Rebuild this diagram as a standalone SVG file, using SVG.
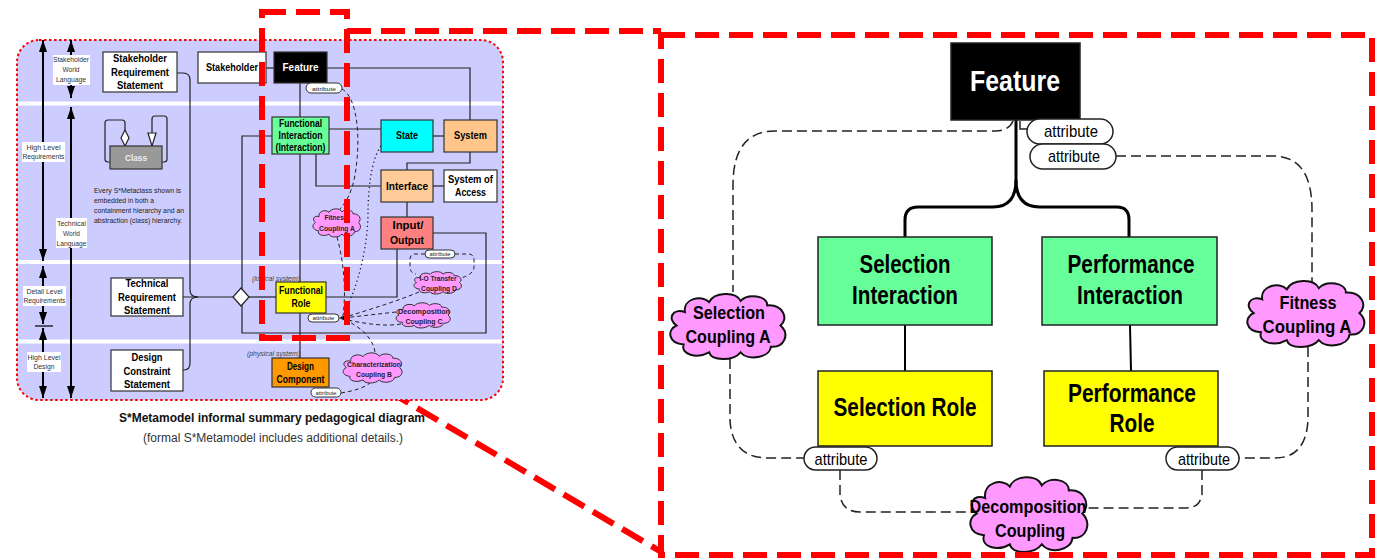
<svg xmlns="http://www.w3.org/2000/svg" width="1376" height="559" viewBox="0 0 1376 559">
<defs>
<style>
text{font-family:"Liberation Sans",Arial,sans-serif;}
.b{font-weight:bold}
.m{text-anchor:middle}
.box{stroke:#333;stroke-width:1.2}
.ln{fill:none;stroke:#222;stroke-width:1.2}
.dl{fill:none;stroke:#222;stroke-width:1;stroke-dasharray:4 3}
.dt{fill:none;stroke:#222;stroke-width:1.3;stroke-dasharray:1.3 3}
.pill{fill:#fff;stroke:#333;stroke-width:1}
.lab{font-size:8px;fill:#333}
.arr{stroke:#000;stroke-width:2}
.hl{fill:none;stroke:#ff0000;stroke-width:6;stroke-dasharray:24 10}
.rbox{stroke:#222;stroke-width:1.5}
.rl{fill:none;stroke:#000;stroke-width:2}
.rd{fill:none;stroke:#222;stroke-width:1.5;stroke-dasharray:10 5}
.cl{fill:#ff99ff;stroke:#333;stroke-width:1}
.clr{fill:#ff99ff;stroke:#111;stroke-width:2}
.ltx{font-size:10px;font-weight:bold;fill:#000}
.ctx{font-size:7px;font-weight:bold;fill:#222}
.atx{font-size:6px;fill:#222}
.rtx{font-size:26px;font-weight:bold;fill:#000}
.rct{font-size:19px;font-weight:bold;fill:#000}
.rat{font-size:17px;fill:#000}
</style>
<path id="cloud" vector-effect="non-scaling-stroke" d="M 14 18 C 12 6, 28 2, 34 9 C 38 0, 56 -1, 60 8 C 66 1, 82 3, 82 12 C 95 11, 100 24, 93 30 C 101 38, 96 50, 85 49 C 84 59, 66 62, 60 54 C 54 62, 36 62, 34 54 C 24 60, 10 56, 13 47 C 0 46, -1 34, 7 30 C -1 24, 4 14, 14 18 Z"/>
<marker id="ah" viewBox="0 0 12 8" refX="12" refY="4" markerWidth="12" markerHeight="8" markerUnits="userSpaceOnUse" orient="auto-start-reverse">
<path d="M0,0 L12,4 L0,8 z" fill="#000"/>
</marker>
</defs>

<!-- zoom connector lines (behind) -->
<g id="zoom-diagonal">
<line x1="300" y1="339" x2="663" y2="553" stroke="#ff0000" stroke-width="6" stroke-dasharray="24 10"/>
</g>

<!-- left panel background -->
<g id="left-panel">
<rect x="17" y="40" width="486" height="360" rx="22" fill="#ccccff" stroke="#ff0000" stroke-width="2" stroke-dasharray="2.5 2.5"/>
<line x1="18" y1="103.5" x2="502" y2="103.5" stroke="#fff" stroke-width="4"/>
<line x1="18" y1="262" x2="502" y2="262" stroke="#fff" stroke-width="4"/>
<line x1="18" y1="341.5" x2="502" y2="341.5" stroke="#fff" stroke-width="4"/>
</g>

<g id="level-arrows">
<line class="arr" x1="43" y1="40" x2="43" y2="261" marker-start="url(#ah)" marker-end="url(#ah)"/>
<line class="arr" x1="43" y1="266" x2="43" y2="324" marker-start="url(#ah)" marker-end="url(#ah)"/>
<line class="arr" x1="43" y1="328" x2="43" y2="398" marker-start="url(#ah)" marker-end="url(#ah)"/>
<line x1="35" y1="326" x2="53" y2="326" stroke="#000" stroke-width="1.2"/>
<line class="arr" x1="71" y1="40" x2="71" y2="98" marker-start="url(#ah)" marker-end="url(#ah)"/>
<line class="arr" x1="71" y1="107" x2="71" y2="398" marker-start="url(#ah)" marker-end="url(#ah)"/>
</g>
<g id="level-labels">
<rect x="53" y="55" width="37" height="30" fill="#fff"/>
<text class="lab m" x="71" y="62" textLength="36" lengthAdjust="spacingAndGlyphs">Stakeholder</text>
<text class="lab m" x="71" y="72" textLength="17" lengthAdjust="spacingAndGlyphs">World</text>
<text class="lab m" x="71" y="82" textLength="30" lengthAdjust="spacingAndGlyphs">Language</text>
<rect x="22" y="142" width="43" height="20" fill="#fff"/>
<text class="lab m" x="43.5" y="150" textLength="34" lengthAdjust="spacingAndGlyphs">High Level</text>
<text class="lab m" x="43.5" y="159" textLength="42" lengthAdjust="spacingAndGlyphs">Requirements</text>
<rect x="56" y="218" width="31" height="30" fill="#fff"/>
<text class="lab m" x="71.5" y="226" textLength="29" lengthAdjust="spacingAndGlyphs">Technical</text>
<text class="lab m" x="71.5" y="236" textLength="17" lengthAdjust="spacingAndGlyphs">World</text>
<text class="lab m" x="71.5" y="246" textLength="30" lengthAdjust="spacingAndGlyphs">Language</text>
<rect x="23" y="286" width="43" height="20" fill="#fff"/>
<text class="lab m" x="44.5" y="294" textLength="36" lengthAdjust="spacingAndGlyphs">Detail Level</text>
<text class="lab m" x="44.5" y="303" textLength="42" lengthAdjust="spacingAndGlyphs">Requirements</text>
<rect x="27" y="352" width="34" height="20" fill="#fff"/>
<text class="lab m" x="44" y="360" textLength="33" lengthAdjust="spacingAndGlyphs">High Level</text>
<text class="lab m" x="44" y="369" textLength="21" lengthAdjust="spacingAndGlyphs">Design</text>
</g>

<!-- left connectors -->
<g id="left-connectors">
<path class="ln" d="M266 68 H274"/>
<path class="ln" d="M327 68 H470 V120"/>
<path class="ln" d="M300 83 V117"/>
<path class="ln" d="M300 154 V282"/>
<path class="ln" d="M329 129 H381"/>
<path class="ln" d="M433 136 H444"/>
<path class="ln" d="M316 154 V186 H381"/>
<path class="ln" d="M470 152 V163 H407 V170"/>
<path class="ln" d="M433 186 H444"/>
<path class="ln" d="M407 202 V217"/>
<path class="ln" d="M433 233 H486 V333 H242 V136 H272"/>
<path class="ln" d="M397 249 V297 H326"/>
<path class="ln" d="M249 297 H276"/>
<path class="ln" d="M183 297 H234"/>
<path class="ln" d="M177 73 H183 Q190 73 190 80 V290 Q190 297 198 297"/>
<path class="ln" d="M183 370 H184 Q190 370 190 363 V304 Q190 297 198 297"/>
<path class="ln" d="M300 313 V358"/>
<!-- class self loops -->
<path class="ln" d="M125 130 V123 Q125 120 122 120 H108 Q105 120 105 123 V159 Q105 162 108 162 H110"/>
<polygon points="125,130 129,138 125,146 121,138" fill="#fff" stroke="#222" stroke-width="1.2"/>
<path class="ln" d="M152 133 V119 Q152 116 155 116 H164 Q167 116 167 119 V159 Q167 162 164 162 H162"/>
<polygon points="148,133 156,133 152,146" fill="#fff" stroke="#222" stroke-width="1.2"/>
<!-- dashed / dotted attribute links -->
<path class="dl" d="M342 89 C358 98, 361 140, 355 175 C352 192, 346 203, 339 210"/>
<path class="dl" d="M337 237 C342 255, 347 285, 343 316"/>
<path class="dt" d="M381 146 C371 160, 368 190, 368 215 C367 260, 352 300, 342 317"/>
<path class="dl" d="M419 292 C400 300, 372 309, 342 318"/>
<path class="dl" d="M396 312 L343 318"/>
<path class="dl" d="M401 324 C382 327, 362 323, 343 319"/>
<path class="dl" d="M375 352 C373 338, 360 326, 343 319"/>
<path class="dl" d="M341 393 C353 391, 364 388, 370 383"/>
<path class="dl" d="M425 254 H415 Q410 254 410 260 V267 Q410 273 416 274"/>
<path class="dl" d="M455 254 H468 Q474 254 474 260 V267 Q474 274 461 278"/>
<polygon points="339,318 347,314.5 347,321.5" fill="#111"/>
</g>

<!-- left nodes -->
<g id="srs">
<rect class="box" x="103" y="52" width="74" height="40" fill="#fff"/>
<text class="ltx m" x="140" y="62" textLength="54" lengthAdjust="spacingAndGlyphs">Stakeholder</text>
<text class="ltx m" x="140" y="76" textLength="58" lengthAdjust="spacingAndGlyphs">Requirement</text>
<text class="ltx m" x="140" y="89" textLength="46" lengthAdjust="spacingAndGlyphs">Statement</text>
</g>
<g id="stakeholder">
<rect class="box" x="198" y="52" width="68" height="31" fill="#fff"/>
<text class="ltx m" x="232" y="71" textLength="52" lengthAdjust="spacingAndGlyphs">Stakeholder</text>
</g>
<g id="feature-small">
<rect class="box" x="274" y="52" width="53" height="31" fill="#000"/>
<text class="m b" x="300.5" y="71" font-size="11" fill="#fff" textLength="36" lengthAdjust="spacingAndGlyphs">Feature</text>
<rect class="pill" x="306" y="83" width="36" height="10" rx="5"/>
<text class="atx m" x="324" y="90.5" textLength="24" lengthAdjust="spacingAndGlyphs">attribute</text>
</g>
<g id="class">
<rect class="box" x="110" y="146" width="52" height="23" fill="#999"/>
<text class="m b" x="136" y="161" font-size="9" fill="#eee" textLength="22" lengthAdjust="spacingAndGlyphs">Class</text>
<text x="94" y="193" font-size="7.5" fill="#222" textLength="87" lengthAdjust="spacingAndGlyphs">Every S*Metaclass shown is</text>
<text x="94" y="203" font-size="7.5" fill="#222" textLength="60" lengthAdjust="spacingAndGlyphs">embedded in both a</text>
<text x="94" y="213" font-size="7.5" fill="#222" textLength="90" lengthAdjust="spacingAndGlyphs">containment hierarchy and an</text>
<text x="94" y="223" font-size="7.5" fill="#222" textLength="88" lengthAdjust="spacingAndGlyphs">abstraction (class) hierarchy.</text>
</g>
<g id="functional-interaction">
<rect class="box" x="272" y="117" width="57" height="37" fill="#66ff99"/>
<text class="ltx m" x="300.5" y="127" font-size="9.5" textLength="43" lengthAdjust="spacingAndGlyphs">Functional</text>
<text class="ltx m" x="300.5" y="139" font-size="9.5" textLength="44" lengthAdjust="spacingAndGlyphs">Interaction</text>
<text class="ltx m" x="300.5" y="151" font-size="9.5" textLength="50" lengthAdjust="spacingAndGlyphs">(Interaction)</text>
</g>
<g id="state">
<rect class="box" x="381" y="120" width="52" height="32" fill="#00ffff"/>
<text class="ltx m" x="407" y="139" textLength="22" lengthAdjust="spacingAndGlyphs">State</text>
</g>
<g id="system">
<rect class="box" x="444" y="120" width="53" height="32" fill="#ffc58a"/>
<text class="ltx m" x="470.5" y="139" textLength="33" lengthAdjust="spacingAndGlyphs">System</text>
</g>
<g id="interface">
<rect class="box" x="381" y="170" width="52" height="32" fill="#ffcc99"/>
<text class="ltx m" x="407" y="190" font-size="11" textLength="42" lengthAdjust="spacingAndGlyphs">Interface</text>
</g>
<g id="system-of-access">
<rect class="box" x="444" y="170" width="53" height="32" fill="#fff"/>
<text class="ltx m" x="470.5" y="183" textLength="45" lengthAdjust="spacingAndGlyphs">System of</text>
<text class="ltx m" x="470.5" y="196" textLength="31" lengthAdjust="spacingAndGlyphs">Access</text>
</g>
<g id="input-output">
<rect class="box" x="381" y="217" width="52" height="32" fill="#ff8080"/>
<text class="ltx m" x="408" y="229" font-size="11" textLength="31" lengthAdjust="spacingAndGlyphs">Input/</text>
<text class="ltx m" x="407" y="244" font-size="11" textLength="34" lengthAdjust="spacingAndGlyphs">Output</text>
<rect class="pill" x="425" y="250" width="30" height="8" rx="4"/>
<text class="m" x="440" y="256.3" font-size="5.5" fill="#222" textLength="21" lengthAdjust="spacingAndGlyphs">attribute</text>
</g>
<g id="trs">
<rect class="box" x="111" y="278" width="72" height="38" fill="#fff"/>
<text class="ltx m" x="147" y="287" textLength="43" lengthAdjust="spacingAndGlyphs">Technical</text>
<text class="ltx m" x="147" y="301" textLength="58" lengthAdjust="spacingAndGlyphs">Requirement</text>
<text class="ltx m" x="147" y="314" textLength="46" lengthAdjust="spacingAndGlyphs">Statement</text>
</g>
<g id="dcs">
<rect class="box" x="111" y="350" width="72" height="41" fill="#fff"/>
<text class="ltx m" x="147" y="361" textLength="31" lengthAdjust="spacingAndGlyphs">Design</text>
<text class="ltx m" x="147" y="375" textLength="47" lengthAdjust="spacingAndGlyphs">Constraint</text>
<text class="ltx m" x="147" y="388" textLength="46" lengthAdjust="spacingAndGlyphs">Statement</text>
</g>
<g id="diamond">
<polygon points="241,288 249,297 241,306 233,297" fill="#fff" stroke="#222" stroke-width="1.2"/>
</g>
<g id="functional-role">
<text x="300" y="281" font-size="7" font-style="italic" fill="#444" text-anchor="end" textLength="48" lengthAdjust="spacingAndGlyphs">(logical system)</text>
<rect class="box" x="276" y="282" width="50" height="31" fill="#ffff00"/>
<text class="ltx m" x="301" y="294" textLength="44" lengthAdjust="spacingAndGlyphs">Functional</text>
<text class="ltx m" x="301" y="307" textLength="19" lengthAdjust="spacingAndGlyphs">Role</text>
<rect class="pill" x="308" y="314" width="31" height="8" rx="4"/>
<text class="m" x="323.5" y="320.3" font-size="5.5" fill="#222" textLength="22" lengthAdjust="spacingAndGlyphs">attribute</text>
</g>
<g id="design-component">
<text x="300" y="356" font-size="7" font-style="italic" fill="#444" text-anchor="end" textLength="53" lengthAdjust="spacingAndGlyphs">(physical system)</text>
<rect class="box" x="272" y="358" width="57" height="29" fill="#ff9900"/>
<text class="ltx m" x="300.5" y="370" textLength="27" lengthAdjust="spacingAndGlyphs">Design</text>
<text class="ltx m" x="300.5" y="383" textLength="48" lengthAdjust="spacingAndGlyphs">Component</text>
<rect class="pill" x="311" y="388" width="30" height="9" rx="4.5"/>
<text class="m" x="326" y="394.8" font-size="5.5" fill="#222" textLength="21" lengthAdjust="spacingAndGlyphs">attribute</text>
</g>
<g id="fitness-coupling-small">
<use href="#cloud" class="cl" transform="translate(312,208) scale(0.5,0.483)"/>
<text class="ctx m" x="336" y="220" textLength="23" lengthAdjust="spacingAndGlyphs">Fitness</text>
<text class="ctx m" x="337" y="231" textLength="36" lengthAdjust="spacingAndGlyphs">Coupling A</text>
</g>
<g id="io-transfer-coupling">
<use href="#cloud" class="cl" transform="translate(413,271) scale(0.5,0.383)"/>
<text class="ctx m" x="438" y="281" textLength="37" lengthAdjust="spacingAndGlyphs">I-O Transfer</text>
<text class="ctx m" x="439" y="291" textLength="36" lengthAdjust="spacingAndGlyphs">Coupling D</text>
</g>
<g id="decomposition-coupling-c">
<use href="#cloud" class="cl" transform="translate(395,302) scale(0.57,0.433)"/>
<text class="ctx m" x="424" y="314" textLength="52" lengthAdjust="spacingAndGlyphs">Decomposition</text>
<text class="ctx m" x="424" y="323.5" textLength="37" lengthAdjust="spacingAndGlyphs">Coupling C</text>
</g>
<g id="characterization-coupling">
<use href="#cloud" class="cl" transform="translate(342,352) scale(0.62,0.517)"/>
<text class="ctx m" x="374" y="367" textLength="54" lengthAdjust="spacingAndGlyphs">Characterization</text>
<text class="ctx m" x="374" y="377" textLength="36" lengthAdjust="spacingAndGlyphs">Coupling B</text>
</g>

<g id="caption">
<text class="m b" x="272" y="422" font-size="12.5" fill="#111" textLength="306" lengthAdjust="spacingAndGlyphs">S*Metamodel informal summary pedagogical diagram</text>
<text class="m" x="273" y="442" font-size="12" fill="#333" textLength="260" lengthAdjust="spacingAndGlyphs">(formal S*Metamodel includes additional details.)</text>
</g>

<!-- highlight on left -->
<g id="zoom-highlight">
<rect class="hl" x="262" y="12" width="85" height="326"/>
<line x1="347" y1="31" x2="661" y2="31" stroke="#ff0000" stroke-width="6" stroke-dasharray="24 10"/>
</g>

<!-- right panel connectors -->
<g id="right-connectors">
<path fill="none" stroke="#000" stroke-width="3" d="M1016 120 V180 Q1016 207 993 207 H918 Q905 207 905 220 V237"/>
<path fill="none" stroke="#000" stroke-width="3" d="M1016 180 Q1016 207 1040 207 H1117 Q1129 207 1129 220 V237"/>
<path class="rl" d="M905 325 V371"/>
<path class="rl" d="M1130 325 L1131 371"/>
<path fill="none" stroke="#222" stroke-width="1.5" d="M1020 121 V129 H1027"/>
<path class="rd" d="M1013 121 Q1009 131 995 131 H775 Q733 131 733 185 V292"/>
<path class="rd" d="M1116 156 H1273 Q1312 156 1312 210 V282"/>
<path class="rd" d="M730 359 V420 Q732 458 768 458 H804"/>
<path class="rd" d="M1308 347 V420 Q1306 458 1275 458 H1239"/>
<path class="rd" d="M840 470 V495 Q842 512 860 512 H970"/>
<path class="rd" d="M1202 470 V494 Q1200 508 1186 508 H1088"/>
</g>

<!-- right panel nodes -->
<g id="feature">
<rect x="951" y="43" width="129" height="77" fill="#000" stroke="#222" stroke-width="1.5"/>
<text class="m b" x="1015" y="91" font-size="30" fill="#fff" textLength="90" lengthAdjust="spacingAndGlyphs">Feature</text>
</g>
<g id="feature-attribute-1">
<rect x="1027" y="119" width="86" height="25" rx="12.5" fill="#fff" stroke="#222" stroke-width="1.5"/>
<text class="rat m" x="1071" y="137" textLength="54" lengthAdjust="spacingAndGlyphs">attribute</text>
</g>
<g id="feature-attribute-2">
<rect x="1030" y="144" width="86" height="25" rx="12.5" fill="#fff" stroke="#222" stroke-width="1.5"/>
<text class="rat m" x="1074" y="162" textLength="52" lengthAdjust="spacingAndGlyphs">attribute</text>
</g>
<g id="selection-interaction">
<rect class="rbox" x="818" y="237" width="174" height="88" fill="#66ff99"/>
<text class="rtx m" x="905" y="273" textLength="91" lengthAdjust="spacingAndGlyphs">Selection</text>
<text class="rtx m" x="905" y="304" textLength="106" lengthAdjust="spacingAndGlyphs">Interaction</text>
</g>
<g id="performance-interaction">
<rect class="rbox" x="1042" y="237" width="175" height="88" fill="#66ff99"/>
<text class="rtx m" x="1131" y="273" textLength="127" lengthAdjust="spacingAndGlyphs">Performance</text>
<text class="rtx m" x="1130" y="304" textLength="106" lengthAdjust="spacingAndGlyphs">Interaction</text>
</g>
<g id="selection-role">
<rect class="rbox" x="818" y="371" width="174" height="75" fill="#ffff00"/>
<text class="rtx m" x="905" y="416" textLength="143" lengthAdjust="spacingAndGlyphs">Selection Role</text>
</g>
<g id="performance-role">
<rect class="rbox" x="1044" y="371" width="174" height="75" fill="#ffff00"/>
<text class="rtx m" x="1132" y="402" textLength="128" lengthAdjust="spacingAndGlyphs">Performance</text>
<text class="rtx m" x="1132" y="432" textLength="45" lengthAdjust="spacingAndGlyphs">Role</text>
</g>
<g id="selection-attribute">
<rect x="804" y="447" width="73" height="23" rx="11.5" fill="#fff" stroke="#222" stroke-width="1.5"/>
<text class="rat m" x="841" y="465" textLength="53" lengthAdjust="spacingAndGlyphs">attribute</text>
</g>
<g id="performance-attribute">
<rect x="1166" y="447" width="73" height="23" rx="11.5" fill="#fff" stroke="#222" stroke-width="1.5"/>
<text class="rat m" x="1204" y="465" textLength="52" lengthAdjust="spacingAndGlyphs">attribute</text>
</g>
<g id="selection-coupling">
<use href="#cloud" class="clr" transform="translate(668,292) scale(1.21,1.117)"/>
<text class="rct m" x="729" y="319" textLength="72" lengthAdjust="spacingAndGlyphs">Selection</text>
<text class="rct m" x="728" y="343" textLength="85" lengthAdjust="spacingAndGlyphs">Coupling A</text>
</g>
<g id="fitness-coupling">
<use href="#cloud" class="clr" transform="translate(1245,279) scale(1.23,1.133)"/>
<text class="rct m" x="1308" y="309" textLength="57" lengthAdjust="spacingAndGlyphs">Fitness</text>
<text class="rct m" x="1307" y="333" textLength="89" lengthAdjust="spacingAndGlyphs">Coupling A</text>
</g>
<g id="decomposition-coupling">
<use href="#cloud" class="clr" transform="translate(968,475) scale(1.23,1.283)"/>
<text class="rct m" x="1028" y="513" textLength="117" lengthAdjust="spacingAndGlyphs">Decomposition</text>
<text class="rct m" x="1030" y="537" textLength="70" lengthAdjust="spacingAndGlyphs">Coupling</text>
</g>

<g id="zoom-frame">
<rect class="hl" x="661" y="35" width="711" height="520"/>
</g>
</svg>
